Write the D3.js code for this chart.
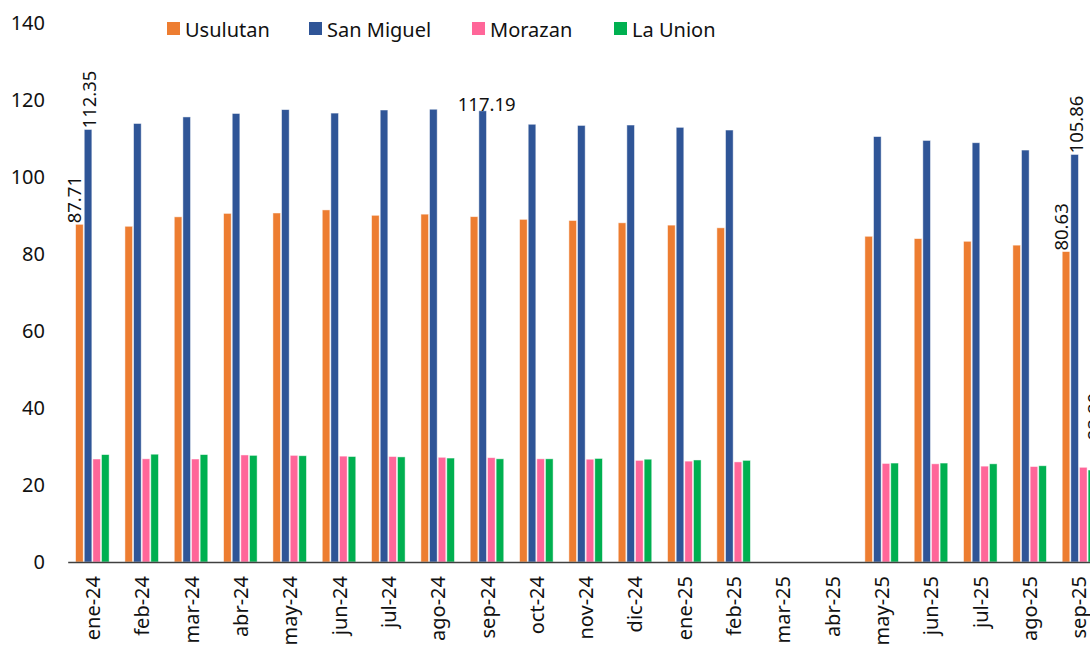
<!DOCTYPE html>
<html>
<head>
<meta charset="utf-8">
<script src="https://cdn.jsdelivr.net/npm/d3@7"></script>
<style>
  html, body { margin: 0; padding: 0; background: #fff; }
  svg { display: block; }
  text { font-family: "Noto Sans", "Open Sans", sans-serif; fill: #111; }
</style>
</head>
<body>
<svg id="chart" width="1090" height="647"></svg>
<script>
// Monthly values by department
const months = ["ene-24","feb-24","mar-24","abr-24","may-24","jun-24","jul-24","ago-24","sep-24","oct-24","nov-24","dic-24",
                "ene-25","feb-25","mar-25","abr-25","may-25","jun-25","jul-25","ago-25","sep-25"];
const seriesNames = ["Usulutan", "San Miguel", "Morazan", "La Union"];
const usulutan  = [87.71, 87.2, 89.65, 90.55, 90.65, 91.45, 90.05, 90.35, 89.7, 89.0, 88.7, 88.1, 87.5, 86.8, null, null, 84.6, 84.0, 83.3, 82.3, 80.63];
const sanMiguel = [112.35, 113.9, 115.6, 116.5, 117.5, 116.6, 117.4, 117.6, 117.19, 113.7, 113.4, 113.5, 112.9, 112.2, null, null, 110.5, 109.5, 108.9, 107.0, 105.86];
const morazan   = [26.75, 26.8, 26.75, 27.8, 27.7, 27.5, 27.4, 27.2, 27.1, 26.8, 26.7, 26.4, 26.2, 26.0, null, null, 25.6, 25.5, 24.9, 24.8, 24.6];
const laUnion   = [27.9, 28.0, 27.9, 27.7, 27.6, 27.4, 27.3, 27.0, 26.8, 26.8, 26.9, 26.7, 26.5, 26.4, null, null, 25.7, 25.7, 25.5, 25.0, 23.89];
const yTicks = [0, 20, 40, 60, 80, 100, 120, 140];
// Bars that carry a value label
const labelled = [
  ["Usulutan", "ene-24"], ["San Miguel", "ene-24"], ["San Miguel", "sep-24"],
  ["San Miguel", "sep-25"], ["Usulutan", "sep-25"], ["La Union", "sep-25"]
];

const colors = {"Usulutan": "#ED7D31", "San Miguel": "#2F5597", "Morazan": "#FF6699", "La Union": "#00B050"};
const valuesBySeries = {"Usulutan": usulutan, "San Miguel": sanMiguel, "Morazan": morazan, "La Union": laUnion};

const svg = d3.select("#chart");
const x0Left = 67.7, step = 49.33;
const x0 = d3.scaleBand().domain(months)
  .range([x0Left, x0Left + step * months.length])
  .paddingInner(0.3).paddingOuter(0.15);
const x1 = d3.scaleBand().domain(seriesNames).range([0, x0.bandwidth()]).padding(0);
const y = d3.scaleLinear().domain([0, 140]).range([562, 23]);

// Bars
const rows = months.map((m, i) => ({m, vals: seriesNames.map(s => ({s, v: valuesBySeries[s][i]}))}));
svg.append("g").selectAll("g").data(rows).join("g")
  .attr("transform", d => `translate(${x0(d.m)},0)`)
  .selectAll("rect").data(d => d.vals.filter(e => e.v != null)).join("rect")
  .attr("x", d => x1(d.s) + 0.5)
  .attr("width", x1.bandwidth() - 1)
  .attr("y", d => y(d.v))
  .attr("height", d => y(0) - y(d.v))
  .attr("fill", d => colors[d.s])
  .attr("stroke", "#fff").attr("stroke-opacity", 0.6).attr("stroke-width", 0.8);

// Category axis
const xAxis = svg.append("g").attr("transform", `translate(0,${y(0)})`)
  .call(d3.axisBottom(x0).tickSize(0).tickSizeOuter(0));
xAxis.select(".domain").attr("stroke", "#404040").attr("stroke-width", 1.5);
xAxis.selectAll(".tick text")
  .attr("font-size", 20)
  .attr("text-anchor", "end")
  .attr("dominant-baseline", "central")
  .attr("transform", "translate(0,14) rotate(-90)")
  .attr("x", 0).attr("y", 0).attr("dy", null)
  .style("font-family", "'Noto Sans', sans-serif").style("fill", "#111");

// Value axis (labels only)
const yAxis = svg.append("g").attr("transform", "translate(45,0)")
  .call(d3.axisLeft(y).tickValues(yTicks).tickSize(0));
yAxis.select(".domain").remove();
yAxis.selectAll(".tick text").attr("x", 0).attr("font-size", 20)
  .style("font-family", "'Noto Sans', sans-serif").style("fill", "#111");

// Value labels
labelled.forEach(([s, m]) => {
  const i = months.indexOf(m);
  const v = valuesBySeries[s][i];
  const cx = x0(m) + x1(s) + x1.bandwidth() / 2;
  const txt = v.toFixed(2);
  if (s === "San Miguel" && m === "sep-24") {
    svg.append("text").attr("x", cx + 4).attr("y", y(v)).attr("font-size", 18.5)
      .attr("text-anchor", "middle").text(txt);
  } else {
    const dx = s === "Usulutan" ? -5.5 : (s === "La Union" ? 2 : 0.5);
    const lift = s === "La Union" ? 30 : 1;
    svg.append("text")
      .attr("transform", `translate(${cx + dx},${y(v) - lift}) rotate(-90)`)
      .attr("font-size", 18.5).attr("text-anchor", "start").attr("dominant-baseline", "central")
      .text(txt);
  }
});

// Legend
const legendX = [167, 309, 472, 614];
const legend = svg.append("g").selectAll("g").data(seriesNames).join("g")
  .attr("transform", (d, i) => `translate(${legendX[i]},22)`);
legend.append("rect").attr("width", 13).attr("height", 13).attr("fill", d => colors[d]);
legend.append("text").attr("x", 18).attr("y", 7).attr("dominant-baseline", "central")
  .attr("font-size", 20).text(d => d);
</script>
</body>
</html>
